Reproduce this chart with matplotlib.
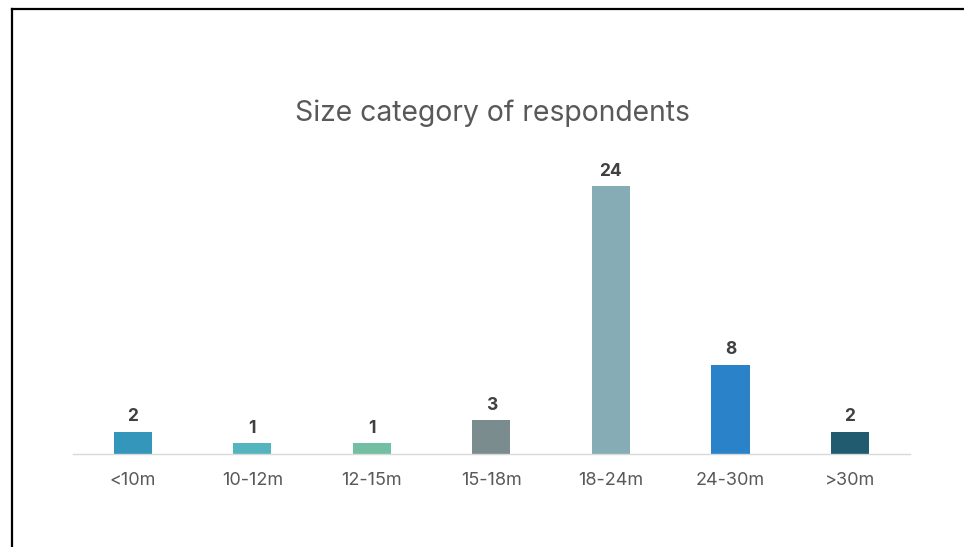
import matplotlib.pyplot as plt
from matplotlib.lines import Line2D

categories = ["<10m", "10-12m", "12-15m", "15-18m", "18-24m", "24-30m", ">30m"]
counts = [2, 1, 1, 3, 24, 8, 2]
colors = ["#3596BC", "#55B5BF", "#72BFA4", "#7A8C8E", "#86ADB6", "#2A82C8", "#215B70"]

plt.rcParams["font.family"] = ["Inter", "DejaVu Sans"]

fig = plt.figure(figsize=(9.64, 5.47), dpi=100)
ax = fig.add_axes([0.0757, 0.170, 0.868, 0.5558])

x = range(len(categories))
bars = ax.bar(x, counts, width=0.32, color=colors, zorder=2)

# value labels above each bar
for b, v in zip(bars, counts):
    ax.annotate(str(v), (b.get_x() + b.get_width() / 2, v),
                xytext=(0, 4.5), textcoords="offset points",
                ha="center", va="bottom", fontsize=12.5,
                fontweight="bold", color="#404040")

ax.set_xlim(-0.5, len(categories) - 0.5)
ax.set_ylim(0, 27.2)
ax.set_xticks(list(x))
ax.set_xticklabels(categories, fontsize=13, color="#595959")
ax.tick_params(axis="x", length=0, pad=13)
ax.set_yticks([])
for side in ["top", "right", "left"]:
    ax.spines[side].set_visible(False)
ax.spines["bottom"].set_color("#D9D9D9")
ax.spines["bottom"].set_linewidth(1.0)

fig.text(0.5107, 1 - 113 / 547, "Size category of respondents",
         ha="center", va="center", fontsize=20.4, color="#595959")

# chart frame (only top and left edges fall inside the image)
fig.add_artist(Line2D([11.5 / 964, 1.0], [1 - 8.5 / 547, 1 - 8.5 / 547],
                      transform=fig.transFigure, color="black", linewidth=1.6))
fig.add_artist(Line2D([11.5 / 964, 11.5 / 964], [0.0, 1 - 8.5 / 547],
                      transform=fig.transFigure, color="black", linewidth=1.6))

fig.savefig("out.png", dpi=100)
